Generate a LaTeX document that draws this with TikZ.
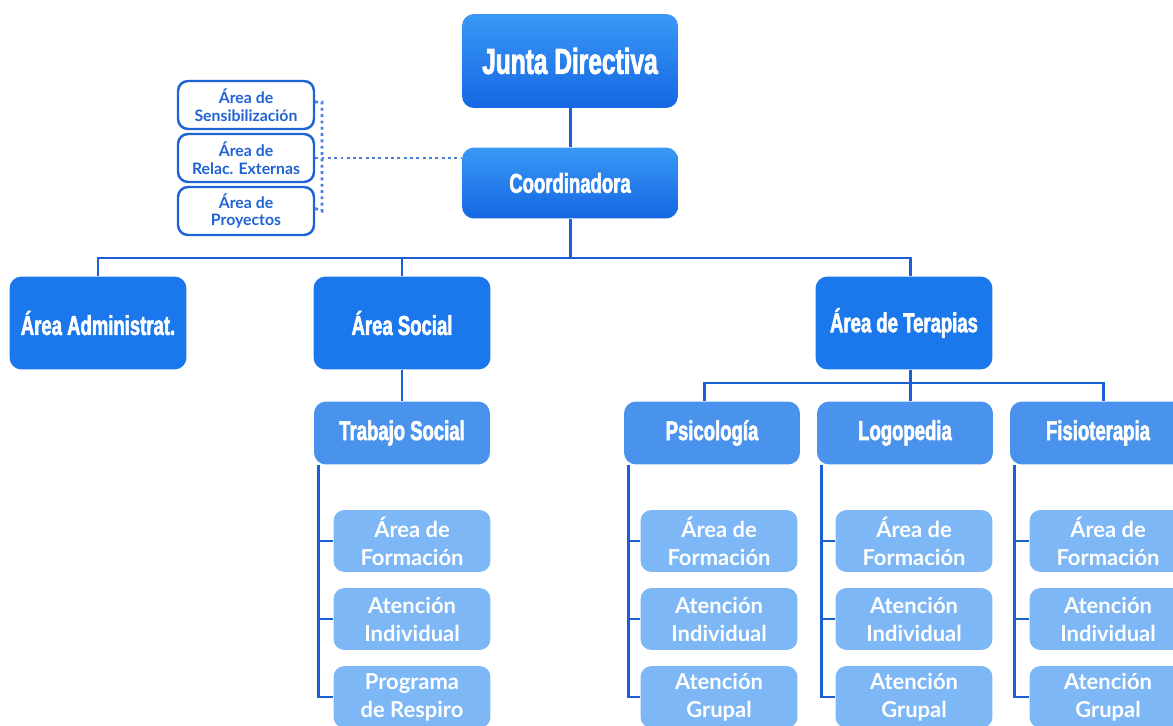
\documentclass[tikz,border=0pt]{standalone}
\usepackage{fontspec}
\usepackage{tikz}
\usetikzlibrary{positioning, calc}
\newfontfamily\headfont[FakeStretch=0.68,FakeBold=2]{Liberation Sans}
\newfontfamily\subfont{Lato}
\definecolor{boxblue}{HTML}{1A78EC}
\definecolor{boxtop}{HTML}{3A98F6}
\definecolor{boxbot}{HTML}{1467E2}
\definecolor{midblue}{HTML}{4A93EC}
\definecolor{paleblue}{HTML}{7DB7F5}
\definecolor{lineblue}{HTML}{1C5ED6}
\definecolor{textblue}{HTML}{1F63D4}

\begin{document}
\begin{tikzpicture}[
    x=0.02cm, y=-0.02cm,
    head/.style={rounded corners=0.24cm, text=white, align=center,
                 font=\headfont\bfseries\fontsize{15.5}{17}\selectfont},
    topbox/.style={head, top color=boxtop, bottom color=boxbot,
                   minimum width=4.32cm},
    areabox/.style={head, fill=boxblue, minimum width=3.54cm, minimum height=1.86cm},
    unitbox/.style={head, fill=midblue, minimum width=3.52cm, minimum height=1.26cm},
    taskbox/.style={rounded corners=0.22cm, fill=paleblue, text=white, align=center,
                    minimum width=3.14cm, minimum height=1.24cm,
                    font=\subfont\bfseries\fontsize{12.5}{16}\selectfont},
    sidebox/.style={draw=textblue, line width=1.4pt, fill=white, rounded corners=0.2cm,
                    text=textblue, align=center, minimum width=2.72cm, minimum height=0.96cm,
                    font=\subfont\bfseries\fontsize{9}{10}\selectfont},
    conn/.style={draw=lineblue, line width=1.7pt},
    dotline/.style={draw=lineblue!80, line width=1.6pt, dotted},
]
\useasboundingbox (0,0) rectangle (1173,726);
\clip (0,0) rectangle (1173,726);
% ------------------------------------------------ top of the chart
\node[topbox, minimum height=1.88cm, font=\headfont\bfseries\fontsize{20.5}{22}\selectfont]
    (junta) at (570,61) {Junta Directiva};
\node[topbox, minimum height=1.42cm] (coord) at (570,183) {Coordinadora};
\draw[conn] (junta) -- (coord);
% side areas, tied to the coordinator by a dotted line
\node[sidebox] (sens) at (246,105) {Área de\\Sensibilización};
\node[sidebox] (relac) at (246,158) {Área de\\Relac. Externas};
\node[sidebox] (proy) at (246,211) {Área de\\Proyectos};
\coordinate (dtop) at (322,102);
\draw[dotline] ([yshift=0.06cm]sens.east) -- (dtop) -- (dtop |- proy.east) -- ([yshift=0.05cm]proy.east);
\draw[dotline] (relac.east) -- (relac.east -| coord.west);
% ------------------------------------------------ areas
\node[areabox] (admin) at (98,323) {Área Administrat.};
\node[areabox] (social) at (402,323) {Área Social};
\node[areabox] (terap) at (904,323) {Área de Terapias};
\coordinate (split1) at (570,258);
\draw[conn] (coord) -- (split1);
\draw[conn] (admin.north) |- (split1) -| ([xshift=0.12cm]terap.north);
\draw[conn] (social.north) -- (social.north |- split1);
% ------------------------------------------------ units
\node[unitbox] (trab) at (402,433) {Trabajo Social};
\node[unitbox] (psico) at (712,433) {Psicología};
\node[unitbox] (logo) at (905,433) {Logopedia};
\node[unitbox] (fisio) at (1098,433) {Fisioterapia};
\draw[conn] (social) -- (trab);
\coordinate (split2) at (904,383);
\draw[conn] ([xshift=0.12cm]terap.south) -- ([xshift=0.12cm]terap.south |- split2);
\draw[conn] ([xshift=-0.16cm]psico.north) |- (split2) -| ([xshift=0.1cm]fisio.north);
\draw[conn] ([xshift=0.1cm]logo.north) -- ([xshift=0.1cm]logo.north |- split2);
% ------------------------------------------------ tasks under each unit
\node[taskbox] (trab1) at (412,541) {Área de\\Formación};
\node[taskbox] (trab2) at (412,619) {Atención\\Individual};
\node[taskbox] (trab3) at (412,697) {Programa\\de Respiro};
\foreach \u/\x in {psico/719, logo/914, fisio/1108} {
  \node[taskbox] (\u1) at (\x,541) {Área de\\Formación};
  \node[taskbox] (\u2) at (\x,619) {Atención\\Individual};
  \node[taskbox] (\u3) at (\x,697) {Atención\\Grupal};
}
\foreach \u in {trab, psico, logo, fisio} {
  \draw[conn] ([xshift=0.1cm]\u.south west) |- (\u3.west);
  \draw[conn] ([xshift=0.1cm]\u.south west |- \u1.west) -- (\u1.west);
  \draw[conn] ([xshift=0.1cm]\u.south west |- \u2.west) -- (\u2.west);
}
\end{tikzpicture}
\end{document}
